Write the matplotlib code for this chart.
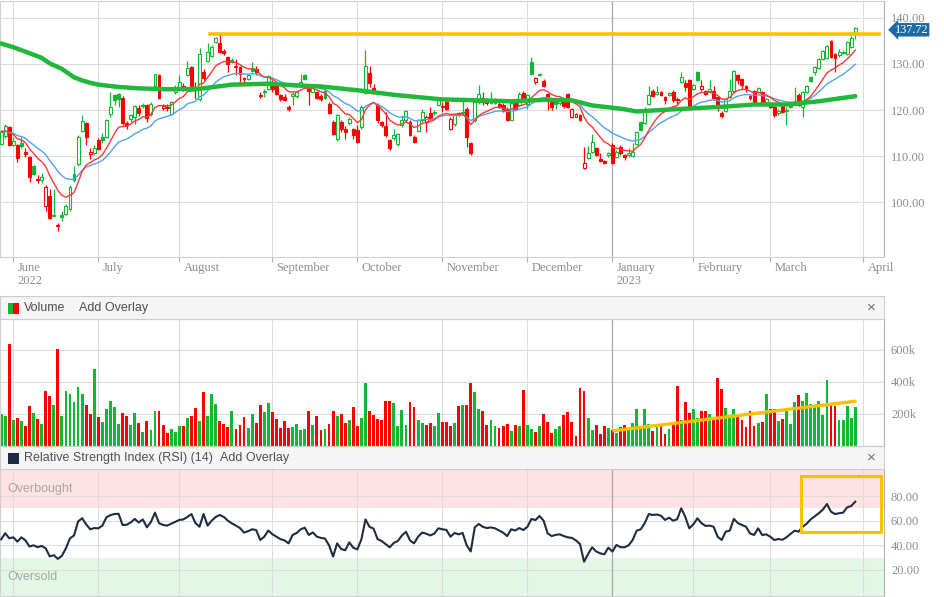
import numpy as np
import pandas as pd
import matplotlib
matplotlib.use("Agg")
import matplotlib.pyplot as plt
from matplotlib.patches import Rectangle
from matplotlib.transforms import ScaledTranslation, blended_transform_factory

# --- DATA ---
holidays = ["2022-05-30", "2022-06-20", "2022-07-04", "2022-09-05", "2022-11-24",
            "2022-12-26", "2023-01-02", "2023-01-16", "2023-02-20"]
dates = pd.bdate_range("2022-05-26", "2023-04-03")
dates = dates[~dates.isin(pd.to_datetime(holidays))]

opens = [112.6, 114.3, 116.4, 112.5, 112.4, 112.9, 111.0, 109.9, 108.0, 105.0,
         104.9, 99.2, 101.3, 97.0, 94.9, 97.2, 97.4, 98.5, 106.2, 108.3,
         115.5, 117.2, 110.5, 110.6, 113.6, 114.2, 114.2, 119.2, 123.2, 123.4,
         122.7, 117.3, 118.1, 118.5, 120.5, 120.8, 121.0, 119.2, 125.1, 127.5,
         120.5, 120.4, 119.2, 123.9, 125.0, 125.3, 127.6, 129.3, 124.7, 122.3,
         128.3, 130.7, 131.8, 134.8, 134.6, 132.8, 131.4, 130.9, 129.3, 129.3,
         127.0, 126.7, 129.0, 128.9, 123.0, 123.8, 124.6, 125.7, 125.7, 123.2,
         122.8, 120.7, 123.0, 123.0, 125.3, 127.5, 124.6, 124.0, 123.9, 123.0,
         124.2, 121.4, 117.4, 113.8, 117.4, 115.8, 117.1, 115.8, 115.6, 116.4,
         123.7, 128.0, 124.8, 121.2, 117.4, 116.5, 113.5, 114.0, 112.6, 116.7,
         117.8, 117.4, 114.2, 115.5, 117.8, 117.4, 119.4, 119.3, 121.2, 120.6,
         121.7, 116.0, 116.9, 119.3, 119.3, 120.3, 112.8, 117.8, 121.7, 122.7,
         122.2, 121.5, 121.6, 121.4, 121.2, 120.3, 117.9, 121.5, 121.0, 123.7,
         121.4, 130.3, 126.0, 127.5, 126.2, 123.5, 121.7, 122.4, 121.5, 122.2,
         123.5, 118.4, 118.6, 118.9, 107.4, 109.6, 111.0, 111.7, 109.5, 109.0,
         110.3, 112.4, 109.9, 111.9, 110.2, 110.3, 110.0, 112.6, 117.4, 117.2,
         121.4, 124.2, 123.5, 123.9, 122.8, 123.3, 123.9, 122.5, 126.0, 125.9,
         126.6, 124.5, 128.3, 124.6, 124.2, 124.2, 124.2, 122.8, 119.4, 119.7,
         122.8, 124.2, 127.6, 126.7, 125.3, 123.0, 124.2, 123.9, 123.9, 121.8,
         121.6, 120.7, 119.4, 120.9, 119.8, 120.6, 121.2, 123.2, 120.7, 123.9,
         127.1, 128.3, 129.0, 131.0, 131.2, 135.0, 132.1, 131.9, 132.3, 132.1,
         133.6, 136.4]
highs = [115.6, 117.0, 116.6, 114.2, 112.6, 114.2, 111.7, 110.1, 108.2, 106.0,
         106.3, 103.8, 103.0, 103.0, 95.6, 98.1, 99.7, 103.7, 107.9, 114.5,
         118.9, 117.5, 111.7, 112.4, 114.0, 115.0, 118.0, 123.9, 123.4, 123.6,
         123.0, 117.6, 119.2, 121.0, 121.1, 121.6, 121.3, 121.8, 127.9, 127.7,
         121.4, 121.3, 122.0, 125.5, 127.5, 125.8, 130.7, 129.5, 126.0, 133.5,
         128.8, 134.6, 134.0, 135.9, 136.4, 133.2, 131.6, 131.2, 131.0, 129.6,
         127.2, 127.8, 130.3, 129.6, 123.9, 124.6, 127.6, 126.4, 126.0, 123.5,
         123.5, 121.0, 123.9, 124.3, 127.8, 127.8, 124.9, 125.3, 124.2, 123.4,
         124.5, 121.8, 117.8, 119.2, 117.8, 116.6, 118.5, 116.2, 116.7, 121.0,
         133.0, 129.6, 125.7, 121.5, 117.7, 119.6, 113.8, 116.0, 115.1, 118.9,
         120.0, 117.8, 114.5, 118.1, 120.3, 118.9, 120.7, 120.0, 122.8, 121.7,
         122.4, 118.4, 119.4, 119.5, 122.7, 120.6, 113.1, 122.0, 125.5, 123.9,
         122.6, 123.9, 122.6, 121.7, 121.5, 120.6, 122.1, 122.4, 123.9, 124.2,
         123.4, 131.5, 127.2, 128.0, 126.7, 123.7, 122.0, 122.7, 122.7, 122.5,
         123.6, 120.5, 119.3, 119.2, 112.1, 112.2, 114.9, 112.0, 110.6, 109.2,
         111.0, 112.8, 111.3, 112.4, 110.4, 111.7, 112.8, 115.5, 117.6, 120.6,
         125.3, 124.5, 125.3, 124.2, 123.0, 123.9, 124.4, 122.8, 128.2, 126.4,
         126.8, 125.7, 128.5, 126.4, 124.4, 126.4, 125.3, 123.0, 119.9, 122.6,
         126.7, 128.7, 127.8, 126.9, 125.5, 123.2, 124.4, 125.0, 124.1, 122.6,
         121.8, 120.9, 120.2, 121.1, 120.7, 121.0, 124.9, 123.6, 124.2, 125.4,
         127.3, 129.5, 131.3, 133.0, 134.0, 135.2, 132.4, 133.2, 132.9, 135.0,
         136.0, 138.0]
lows = [112.4, 114.0, 112.3, 112.3, 108.8, 111.7, 109.9, 104.5, 106.0, 104.2,
        104.2, 98.1, 96.5, 96.8, 93.8, 95.9, 97.2, 98.2, 104.5, 108.0,
        115.3, 112.4, 109.5, 110.3, 111.3, 112.8, 114.0, 118.5, 121.0, 120.7,
        116.7, 116.0, 117.5, 116.9, 118.8, 120.5, 117.4, 118.8, 124.9, 122.4,
        120.1, 119.8, 119.0, 123.4, 124.5, 124.2, 127.3, 124.3, 122.4, 122.0,
        126.5, 130.4, 131.5, 134.6, 132.3, 132.0, 128.2, 130.2, 127.5, 125.7,
        125.3, 126.4, 128.2, 127.5, 122.6, 122.8, 124.3, 123.9, 123.2, 122.0,
        122.0, 119.7, 121.0, 122.6, 125.0, 126.5, 121.0, 123.8, 122.3, 122.0,
        122.3, 119.1, 114.5, 113.2, 115.3, 113.8, 116.7, 113.8, 112.8, 116.0,
        123.5, 125.0, 123.5, 117.1, 116.3, 114.2, 111.4, 113.5, 112.3, 116.4,
        117.5, 114.3, 112.8, 115.2, 117.5, 115.3, 117.8, 118.9, 120.9, 119.6,
        120.0, 115.6, 116.6, 118.7, 119.0, 112.0, 110.2, 117.5, 121.4, 121.0,
        121.2, 121.3, 121.3, 120.4, 119.5, 117.6, 117.8, 120.0, 120.8, 122.1,
        120.3, 127.6, 125.7, 127.3, 124.9, 120.0, 120.0, 120.3, 121.2, 120.5,
        120.4, 118.2, 118.4, 117.6, 107.2, 109.4, 110.8, 110.0, 108.8, 108.3,
        109.9, 108.3, 109.6, 110.3, 109.2, 109.9, 109.8, 112.4, 115.4, 117.0,
        121.1, 122.9, 123.3, 123.0, 121.4, 123.1, 121.7, 121.4, 125.8, 124.2,
        120.4, 124.3, 126.2, 124.2, 123.3, 124.0, 122.4, 119.9, 118.2, 119.5,
        122.6, 124.0, 125.7, 124.5, 123.9, 122.1, 121.5, 123.7, 121.0, 121.0,
        120.4, 118.5, 119.0, 119.3, 116.7, 120.4, 121.0, 120.8, 118.5, 123.7,
        126.0, 127.5, 128.8, 130.8, 131.0, 131.2, 128.2, 131.4, 132.1, 131.9,
        133.4, 135.3]
closes = [115.3, 116.6, 112.5, 113.4, 109.7, 112.2, 110.5, 105.6, 106.2, 104.8,
          105.5, 103.3, 96.6, 97.3, 95.2, 96.8, 99.3, 103.4, 104.9, 114.1,
          117.6, 114.2, 111.0, 111.7, 111.5, 113.5, 117.8, 120.7, 122.2, 122.5,
          117.1, 116.8, 118.9, 120.8, 119.4, 121.2, 118.2, 121.4, 127.7, 122.6,
          120.9, 120.7, 121.7, 124.9, 126.0, 124.6, 129.0, 124.6, 124.3, 132.1,
          126.9, 132.6, 133.6, 135.5, 132.5, 132.3, 130.0, 130.5, 129.6, 127.8,
          126.7, 127.5, 128.5, 128.2, 123.3, 124.1, 127.3, 124.6, 123.5, 122.3,
          122.2, 120.3, 123.5, 124.0, 126.0, 126.7, 124.2, 125.0, 122.6, 122.3,
          122.6, 119.4, 114.9, 118.9, 115.9, 115.3, 118.1, 114.6, 113.1, 120.7,
          129.6, 125.8, 124.4, 117.8, 116.7, 114.6, 111.7, 114.5, 114.8, 117.8,
          119.7, 114.6, 113.1, 117.8, 119.6, 118.6, 118.1, 119.6, 122.1, 120.9,
          120.3, 118.1, 119.1, 119.0, 119.6, 114.2, 110.6, 121.7, 123.5, 121.8,
          121.5, 122.1, 122.3, 120.7, 119.8, 117.9, 121.6, 120.3, 123.5, 122.4,
          123.2, 127.8, 127.0, 127.8, 125.1, 122.1, 120.7, 121.3, 122.4, 120.8,
          120.6, 120.3, 119.1, 117.9, 108.5, 110.8, 113.1, 110.3, 109.0, 108.6,
          110.6, 108.6, 111.0, 110.6, 109.9, 110.7, 111.0, 115.3, 115.6, 120.3,
          123.2, 123.1, 123.9, 123.2, 122.1, 123.6, 122.2, 122.1, 127.1, 125.0,
          120.7, 125.5, 126.4, 125.2, 123.5, 124.5, 122.6, 121.0, 118.7, 122.4,
          124.2, 128.5, 126.4, 125.5, 124.5, 122.6, 121.7, 124.7, 121.6, 122.3,
          120.7, 119.0, 119.9, 119.6, 120.0, 120.9, 121.5, 121.0, 124.0, 125.2,
          126.2, 129.3, 131.0, 132.8, 133.8, 131.4, 131.2, 132.5, 132.6, 134.8,
          135.7, 137.72]

# volume in thousands of shares
volume_k = [200, 187, 637, 162, 175, 156, 125, 250, 206, 169,
            137, 344, 312, 256, 606, 187, 344, 325, 275, 369,
            325, 256, 200, 481, 181, 150, 231, 281, 244, 137,
            206, 187, 131, 206, 144, 87, 156, 100, 219, 219,
            131, 81, 106, 87, 125, 125, 175, 187, 237, 156,
            337, 187, 325, 262, 156, 137, 119, 219, 106, 131,
            181, 112, 200, 144, 256, 212, 269, 212, 169, 112,
            156, 112, 119, 137, 100, 104, 219, 131, 187, 100,
            106, 137, 219, 187, 200, 144, 162, 244, 125, 175,
            394, 219, 194, 169, 162, 281, 281, 269, 125, 225,
            131, 275, 244, 162, 144, 131, 144, 125, 206, 150,
            150, 125, 144, 250, 256, 256,
            394, 337, 231, 219, 131, 162, 125, 112, 125, 137,
            94, 131, 125, 350, 131, 106, 87, 125, 200, 150,
            81, 106, 125, 194, 212, 150, 62, 362, 344, 175,
            100, 131, 75, 125, 112, 100, 81, 119, 131, 100,
            144, 231, 119, 231, 137, 94, 125, 125, 75, 106,
            137, 375, 162, 275, 206, 231, 175, 219, 219, 200,
            169, 425, 356, 237, 194, 231, 194, 162, 119, 219,
            125, 144, 150, 325, 231, 231, 156, 169, 237, 137,
            275, 319, 281, 331, 262, 256, 281, 194, 412, 256,
            250, 162, 162, 250, 175, 244]

rsi = [44.9, 49.8, 45.7, 46.5, 43.0, 46.5, 44.0, 39.0, 40.0, 38.5,
       39.5, 37.6, 31.0, 32.0, 29.0, 31.5, 37.6, 45.7, 48.0, 59.3,
       62.0, 57.0, 53.0, 54.0, 53.8, 56.0, 62.7, 64.5, 65.4, 65.6,
       56.5, 56.7, 58.5, 61.4, 58.5, 61.0, 54.6, 59.0, 66.5, 58.0,
       56.5, 56.0, 57.5, 59.0, 60.6, 61.0, 63.0, 65.4, 58.0, 55.1,
       65.4, 56.0, 60.0, 63.0, 64.6, 63.0, 60.0, 57.8, 56.0, 54.0,
       50.3, 51.5, 53.0, 52.4, 44.3, 47.0, 52.0, 49.0, 47.0, 45.0,
       44.0, 41.6, 48.4, 50.0, 53.0, 54.3, 48.4, 50.5, 47.0, 46.0,
       45.5, 40.0, 30.9, 41.6, 37.0, 36.0, 42.4, 38.0, 36.7, 45.0,
       61.0, 55.0, 53.5, 45.0, 43.5, 41.0, 38.4, 42.0, 43.5, 48.0,
       51.0, 44.0, 41.6, 47.0, 50.3, 49.5, 48.0, 49.5, 53.8, 53.0,
       52.5, 47.0, 50.0, 48.9, 50.0, 40.0, 35.0, 54.6, 57.3, 55.0,
       54.0, 54.5, 53.8, 52.0, 50.3, 47.5, 53.0, 52.0, 54.0, 52.4,
       55.0, 61.4, 60.5, 63.8, 60.0, 49.7, 47.5, 48.5, 48.9, 47.5,
       46.5, 46.0, 44.0, 41.0, 26.7, 33.0, 38.4, 35.0, 33.5, 32.7,
       38.1, 34.9, 40.3, 38.5, 38.4, 40.0, 44.3, 51.9, 53.0, 58.0,
       65.4, 64.6, 65.0, 64.0, 60.6, 62.4, 60.0, 61.1, 70.0, 63.2,
       53.8, 57.0, 61.9, 58.0, 55.7, 56.0, 55.1, 47.0, 44.3, 51.1,
       51.9, 61.4, 58.0, 56.5, 55.1, 49.7, 48.4, 53.8, 48.4, 48.9,
       47.0, 44.3, 45.1, 44.5, 46.5, 49.2, 51.9, 51.1, 55.1, 57.5,
       61.1, 63.5, 66.0, 69.0, 73.5, 67.3, 65.4, 66.0, 66.5, 70.8,
       71.9, 75.4]

# long moving average (thick green), read at a few points
ma_long_idx = [0, 3, 7, 10, 12, 15, 18, 20, 22, 24, 29, 34, 41, 49, 57, 66, 74,
               79, 89, 97, 109, 118, 126, 134, 141, 146, 153, 157, 169, 178,
               186, 194, 202, 211]
ma_long_val = [134.4, 133.6, 132.3, 131.3, 130.1, 128.9, 127.1, 126.4, 125.9,
               125.5, 125.0, 124.7, 124.5, 124.6, 125.5, 125.7, 125.3, 125.1,
               124.2, 123.3, 122.3, 122.1, 121.9, 122.2, 122.1, 121.0, 120.3,
               119.7, 120.3, 120.7, 121.2, 121.2, 121.9, 123.0]

# drawn annotations
resist_level = 136.4
resist_span = (51.6, 216.9)
vol_trend_x = (151.4, 210.9)
vol_trend_k = (95.6, 279.0)
rsi_box = (197.6, 51.1, 217.4, 96.5)

# --- STYLE ---
GREEN = "#10b834"
RED = "#ff0000"
GOLD = "#ffc000"
GRID = "#dcdcdc"
LBL = "#8c8c8c"
SERIF = "Liberation Serif"
SANS = "Liberation Sans"

n = len(closes)
x = np.arange(n)
o = np.array(opens); h = np.array(highs); l = np.array(lows); c = np.array(closes)
prev = np.r_[o[0], c[:-1]]
cols = np.where(c >= prev, GREEN, RED)
filled = c < o
faces = [col if f else "white" for col, f in zip(cols, filled)]

months = dates.to_period("M")
starts = np.nonzero(months[1:] != months[:-1])[0] + 1
tick_lbls = []
for s in starts:
    d = dates[s]
    lab = d.strftime("%B")
    if d.month in (6, 1):
        lab += "\n" + str(d.year)
    tick_lbls.append(lab)
sep_idx = starts[[dates[s].month == 1 for s in starts].index(True)]

W, H = 945, 597
fig = plt.figure(figsize=(W / 100, H / 100), dpi=100)


def box(x0, y0, x1, y1):
    return [x0 / W, 1 - y1 / H, (x1 - x0) / W, (y1 - y0) / H]


ax_p = fig.add_axes(box(0, 1, 884, 257))
ax_v = fig.add_axes(box(0, 319, 884, 446))
ax_r = fig.add_axes(box(0, 469, 884, 596))

XL = (-0.29, 218.1)
for ax in (ax_p, ax_v, ax_r):
    ax.set_xlim(*XL)
    ax.set_xticks(starts)
    ax.grid(True, color=GRID, lw=0.8)
    ax.set_axisbelow(True)
    ax.axvline(sep_idx, color="#a8a8a8", lw=0.9, zorder=0.6)
    for sp in ax.spines.values():
        sp.set_color("#cfcfcf")
        sp.set_linewidth(0.8)
    ax.spines["right"].set_color("#b0b0b0")
    ax.yaxis.tick_right()
    ax.tick_params(axis="y", length=0, pad=5, labelsize=9, labelcolor=LBL)

# --- price panel ---
ax_p.vlines(x, l, h, colors=cols, lw=0.9, zorder=2)
body = np.maximum(np.abs(c - o), 0.12)
ax_p.bar(x, body, bottom=np.minimum(o, c), width=0.72, color=faces,
         edgecolor=cols, linewidth=0.8, zorder=3)
cs = pd.Series(c)
ax_p.plot(x, cs.ewm(span=20, adjust=False).mean(), color="#4fa3ee", lw=1.0, zorder=4)
ax_p.plot(x, cs.ewm(span=10, adjust=False).mean(), color="#f53a3a", lw=1.0, zorder=4)
ax_p.plot(ma_long_idx, ma_long_val, color="#1fb838", lw=3.2, zorder=4,
          solid_capstyle="round", solid_joinstyle="round")
ax_p.plot(resist_span, [resist_level] * 2, color=GOLD, lw=2.6, zorder=5)
ax_p.set_ylim(88.2, 143.6)
ax_p.set_yticks([100, 110, 120, 130, 140])
ax_p.set_yticklabels([f"{v:.2f}" for v in [100, 110, 120, 130, 140]], family=SERIF)
ax_p.set_xticklabels(tick_lbls, family=SERIF)
ax_p.tick_params(axis="x", length=3.7, color="#b0b0b0", pad=0, labelsize=9,
                 labelcolor=LBL)
off = ScaledTranslation(3 / 72, 0, fig.dpi_scale_trans)
for t in ax_p.get_xticklabels():
    t.set_ha("left")
    t.set_linespacing(1.15)
    t.set_transform(t.get_transform() + off)

ax_p.annotate(f"{closes[-1]:.2f}", xy=(1, closes[-1] - 0.35),
              xycoords=blended_transform_factory(ax_p.transAxes, ax_p.transData),
              xytext=(8, 0), textcoords="offset points", ha="left", va="center",
              color="white", fontsize=8.8, family=SERIF, annotation_clip=False,
              bbox=dict(boxstyle="larrow,pad=0.06", fc="#1b6aa5", ec="none"))

# --- volume panel ---
vol = np.array(volume_k) * 1000
ax_v.bar(x, vol, width=0.7, color=cols, zorder=2)
ax_v.plot(vol_trend_x, np.array(vol_trend_k) * 1000, color=GOLD, lw=2.4, zorder=3)
ax_v.set_ylim(0, 792000)
ax_v.set_yticks([200000, 400000, 600000])
ax_v.set_yticklabels(["200k", "400k", "600k"], family=SERIF)
ax_v.tick_params(axis="x", length=0, labelbottom=False)

# --- RSI panel ---
ax_r.set_ylim(-1.1, 101.9)
ax_r.axhspan(70, 101.9, color="#ffe2e3", zorder=0, lw=0)
ax_r.axhspan(-1.1, 30, color="#e3f7e7", zorder=0, lw=0)
ax_r.plot(x, rsi, color="#1c2d42", lw=1.5, zorder=3)
ax_r.add_patch(Rectangle((rsi_box[0], rsi_box[1]), rsi_box[2] - rsi_box[0],
                         rsi_box[3] - rsi_box[1], fill=False, ec=GOLD, lw=2.2,
                         zorder=4, clip_on=False))
ax_r.set_yticks([20, 40, 60, 80])
ax_r.set_yticklabels([f"{v:.2f}" for v in [20, 40, 60, 80]], family=SERIF)
ax_r.tick_params(axis="x", length=0, labelbottom=False)
fig.text(7 / W, 1 - 489 / H, "Overbought", color="#a6a6a6", fontsize=9,
         family=SANS, va="center")
fig.text(7 / W, 1 - 577 / H, "Oversold", color="#a6a6a6", fontsize=9,
         family=SANS, va="center")

# --- panel headers ---
for y0, y1 in ((296, 319), (446, 469)):
    fig.add_artist(Rectangle((0, 1 - y1 / H), 884 / W, (y1 - y0) / H,
                             transform=fig.transFigure, fc="#f5f5f5",
                             ec="#cccccc", lw=0.8))
    fig.text(871 / W, 1 - ((y0 + y1) / 2) / H, "×", color="#707070", fontsize=11,
             family=SANS, ha="center", va="center")

fig.add_artist(Rectangle((8 / W, 1 - 314 / H), 5.5 / W, 11 / H,
                         transform=fig.transFigure, fc=GREEN, ec="none"))
fig.add_artist(Rectangle((13.5 / W, 1 - 314 / H), 5.5 / W, 11 / H,
                         transform=fig.transFigure, fc=RED, ec="none"))
fig.text(24 / W, 1 - 308 / H, "Volume", color="#505050", fontsize=9,
         family=SANS, va="center")
fig.text(79 / W, 1 - 308 / H, "Add Overlay", color="#505050", fontsize=9,
         family=SANS, va="center")

fig.add_artist(Rectangle((8 / W, 1 - 464 / H), 11 / W, 11 / H,
                         transform=fig.transFigure, fc="#1c2d42", ec="none"))
fig.text(24 / W, 1 - 458 / H, "Relative Strength Index (RSI) (14)", color="#505050",
         fontsize=9, family=SANS, va="center")
fig.text(220 / W, 1 - 458 / H, "Add Overlay", color="#505050", fontsize=9,
         family=SANS, va="center")

fig.savefig("out.png", dpi=100, facecolor="white")
